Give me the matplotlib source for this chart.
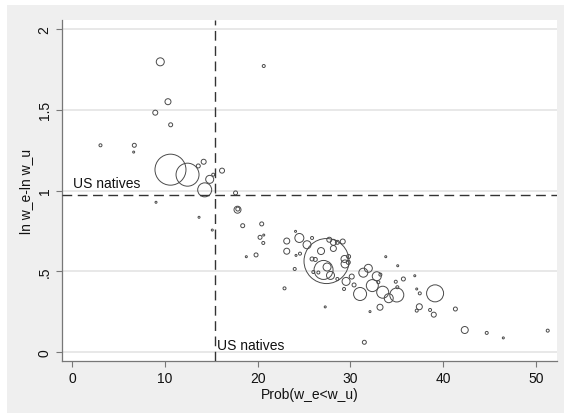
import numpy as np
import matplotlib.pyplot as plt
from matplotlib.patches import Rectangle

# probability that earnings are below the unskilled wage, per group
prob = [9.49, 20.65, 10.32, 8.95, 10.61, 3.04, 6.69, 6.62, 10.59, 12.43,
        13.59, 14.17, 14.82, 15.20, 16.15, 14.28, 17.61, 9.03, 17.82, 17.85,
        13.67, 18.38, 15.10, 20.43, 20.25, 20.65, 20.60, 18.77, 19.82, 23.13,
        23.13, 22.89, 24.08, 24.49, 25.32, 25.86, 24.13, 24.56, 23.99, 26.83,
        27.42, 27.10, 27.48, 27.85, 25.86, 26.21, 26.00, 26.54, 28.59, 27.72,
        28.16, 28.16, 28.59, 29.17, 29.36, 29.42, 29.80, 29.77, 29.53, 30.14,
        29.31, 30.39, 31.04, 27.28, 31.50, 31.39, 31.93, 32.36, 32.84, 33.01,
        33.23, 33.48, 34.13, 35.00, 35.06, 33.19, 32.11, 33.81, 35.10, 34.89,
        35.71, 36.94, 37.15, 37.48, 39.13, 37.43, 37.15, 38.59, 38.99, 41.32,
        42.33, 44.70, 46.49, 51.28]
# log wage gap
gap = [1.797, 1.771, 1.550, 1.482, 1.407, 1.280, 1.280, 1.238, 1.129, 1.098,
       1.152, 1.178, 1.069, 1.098, 1.123, 1.004, 0.985, 0.927, 0.881, 0.885,
       0.834, 0.782, 0.755, 0.793, 0.710, 0.724, 0.675, 0.590, 0.601, 0.687,
       0.624, 0.394, 0.747, 0.706, 0.664, 0.706, 0.598, 0.609, 0.514, 0.625,
       0.563, 0.508, 0.526, 0.474, 0.576, 0.573, 0.495, 0.492, 0.452, 0.695,
       0.679, 0.641, 0.679, 0.684, 0.576, 0.545, 0.591, 0.555, 0.437, 0.467,
       0.390, 0.415, 0.359, 0.279, 0.060, 0.491, 0.518, 0.411, 0.469, 0.432,
       0.479, 0.370, 0.333, 0.353, 0.401, 0.277, 0.250, 0.590, 0.534, 0.435,
       0.452, 0.472, 0.390, 0.363, 0.363, 0.280, 0.256, 0.260, 0.231, 0.266,
       0.136, 0.118, 0.087, 0.132]
# group weight (drives marker area)
weight = [64, 9, 36, 25, 16, 9, 16, 4, 961, 529,
          16, 25, 64, 9, 25, 196, 16, 4, 49, 16,
          4, 16, 4, 16, 16, 4, 9, 4, 16, 36,
          36, 9, 4, 81, 64, 9, 4, 9, 9, 49,
          2025, 361, 64, 64, 16, 16, 9, 9, 9, 25,
          36, 36, 16, 25, 49, 64, 16, 16, 64, 25,
          9, 16, 169, 4, 16, 81, 64, 144, 81, 9,
          9, 144, 81, 196, 9, 36, 4, 4, 4, 9,
          16, 4, 4, 9, 289, 36, 9, 9, 25, 16,
          49, 9, 4, 9]

native_prob = 15.4
native_gap = 0.972

xticks = [0, 10, 20, 30, 40, 50]
yticks = [0, 0.5, 1, 1.5, 2]
ylabels = ["0", ".5", "1", "1.5", "2"]

plt.rcParams['font.family'] = ['Liberation Sans', 'DejaVu Sans']

fig = plt.figure(figsize=(5.64, 4.14), dpi=100)
fig.patch.set_facecolor('white')
bg = Rectangle((7 / 564, 0), 1, 1 - 6 / 414, transform=fig.transFigure,
               facecolor='#efefef', edgecolor='none', zorder=-10)
fig.patches.append(bg)

ax = fig.add_axes([62 / 564, 1 - 362 / 414, (557 - 62) / 564, (362 - 21) / 414])
ax.set_facecolor('white')

ax.scatter(prob, gap, s=np.array(weight) * 0.5184, facecolors='none',
           edgecolors='#4a4a4a', linewidths=0.7, zorder=3)

ax.axhline(native_gap, color='#333333', lw=1.0, ls=(0, (7, 4)), zorder=4)
ax.axvline(native_prob, color='#333333', lw=1.0, ls=(0, (7, 4)), zorder=4)
ax.text(0.05, 1.02, "US natives", fontsize=10, va='baseline', ha='left', color='#111111')
ax.text(15.6, 0.02, "US natives", fontsize=10, va='baseline', ha='left', color='#111111')

ax.set_xlim(-1.11, 52.28)
ax.set_ylim(-0.056, 2.056)
ax.set_xticks(xticks)
ax.set_yticks(yticks)
ax.set_yticklabels(ylabels, rotation=90, va='center')
ax.grid(axis='y', color='#e6e6e6', lw=1.3, zorder=0)
ax.set_axisbelow(True)

for s in ['top', 'right']:
    ax.spines[s].set_visible(False)
for s in ['left', 'bottom']:
    ax.spines[s].set_color('#777777')
    ax.spines[s].set_linewidth(0.9)
ax.tick_params(colors='#777777', labelcolor='#111111', labelsize=10, length=4, width=0.8)

ax.set_xlabel("Prob(w_e<w_u)", fontsize=10, color='#111111', labelpad=1)
ax.set_ylabel("ln w_e-ln w_u", fontsize=10, color='#111111', labelpad=3)

fig.savefig("out.png", dpi=100, facecolor=fig.get_facecolor())
